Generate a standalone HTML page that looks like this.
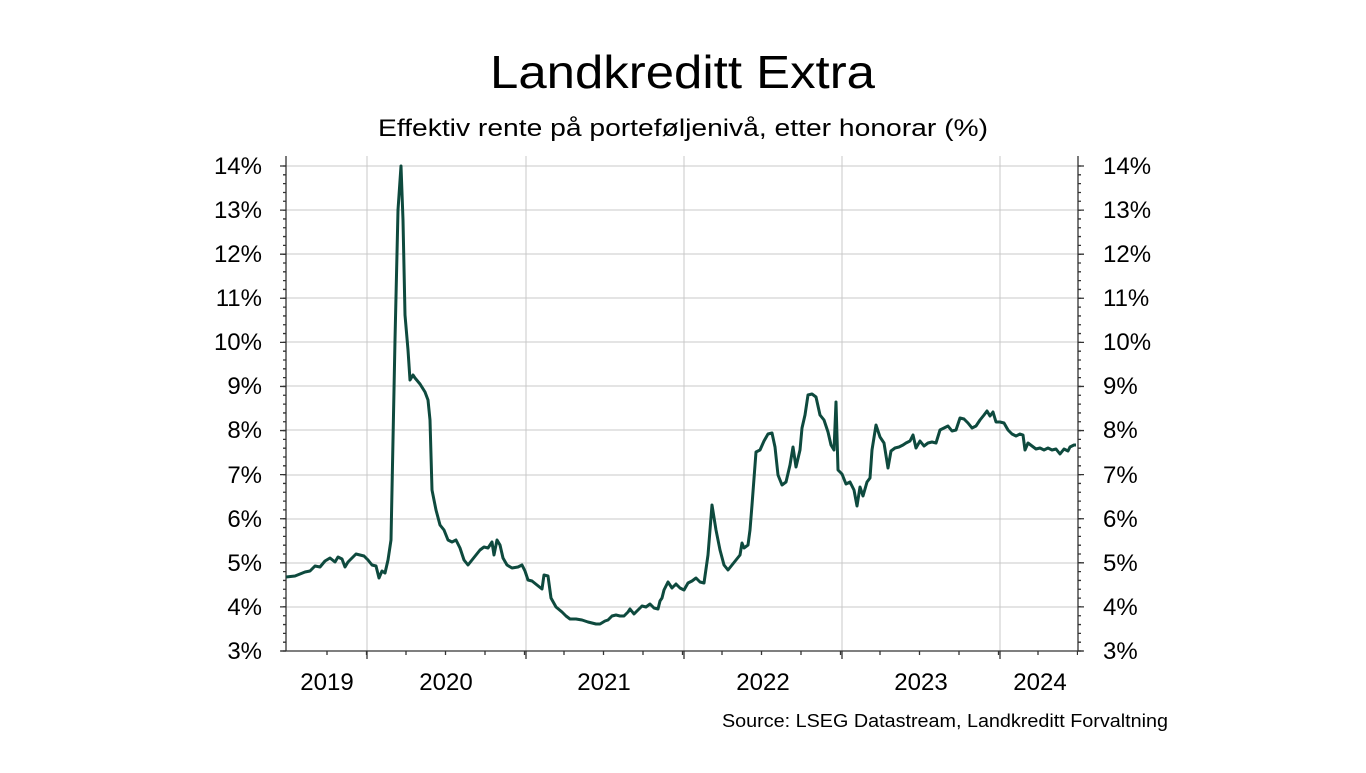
<!DOCTYPE html>
<html><head><meta charset="utf-8"><style>
html,body{margin:0;padding:0;background:#fff;}
svg text{font-family:"Liberation Sans",sans-serif;fill:#000;}
</style></head><body>
<svg width="1366" height="768" viewBox="0 0 1366 768" xmlns="http://www.w3.org/2000/svg">
<text x="490" y="88" font-size="46" textLength="385" lengthAdjust="spacingAndGlyphs">Landkreditt Extra</text>
<text x="378" y="136" font-size="24" textLength="610" lengthAdjust="spacingAndGlyphs">Effektiv rente på porteføljenivå, etter honorar (%)</text>
<g stroke="#c8c8c8" stroke-width="1">
<line x1="286" y1="166" x2="1078" y2="166"/><line x1="286" y1="210" x2="1078" y2="210"/>
<line x1="286" y1="254" x2="1078" y2="254"/><line x1="286" y1="298" x2="1078" y2="298"/>
<line x1="286" y1="342" x2="1078" y2="342"/><line x1="286" y1="386" x2="1078" y2="386"/>
<line x1="286" y1="430" x2="1078" y2="430"/><line x1="286" y1="475" x2="1078" y2="475"/>
<line x1="286" y1="519" x2="1078" y2="519"/><line x1="286" y1="563" x2="1078" y2="563"/>
<line x1="286" y1="607" x2="1078" y2="607"/>
<line x1="367" y1="156" x2="367" y2="651"/><line x1="526" y1="156" x2="526" y2="651"/>
<line x1="684" y1="156" x2="684" y2="651"/><line x1="842" y1="156" x2="842" y2="651"/>
<line x1="1000" y1="156" x2="1000" y2="651"/>
</g>
<g stroke="#333" stroke-width="1.3" fill="none">
<line x1="286" y1="156" x2="286" y2="651"/><line x1="1078" y1="156" x2="1078" y2="651"/>
<line x1="281" y1="651" x2="1083" y2="651"/>
</g>
<g stroke="#333" fill="none">
<line x1="284.5" y1="651.65" x2="284.5" y2="160" stroke-width="3" stroke-dasharray="1.3 7.518"/>
<line x1="1079.5" y1="651.65" x2="1079.5" y2="160" stroke-width="3" stroke-dasharray="1.3 7.518"/>
<line x1="283" y1="651.65" x2="283" y2="160" stroke-width="6" stroke-dasharray="1.3 42.79"/>
<line x1="1081" y1="651.65" x2="1081" y2="160" stroke-width="6" stroke-dasharray="1.3 42.79"/>
<line x1="326.35" y1="653" x2="1078" y2="653" stroke-width="4" stroke-dasharray="1.3 38.2"/>
</g>
<g stroke="#333" stroke-width="1.3">
<line x1="367" y1="651" x2="367" y2="659"/><line x1="526" y1="651" x2="526" y2="659"/>
<line x1="684" y1="651" x2="684" y2="659"/><line x1="842" y1="651" x2="842" y2="659"/>
<line x1="1000" y1="651" x2="1000" y2="659"/>
</g>
<g font-size="24">
<text x="262" y="174" text-anchor="end">14%</text><text x="262" y="218" text-anchor="end">13%</text>
<text x="262" y="262" text-anchor="end">12%</text><text x="262" y="306" text-anchor="end">11%</text>
<text x="262" y="350" text-anchor="end">10%</text><text x="262" y="394" text-anchor="end">9%</text>
<text x="262" y="438" text-anchor="end">8%</text><text x="262" y="483" text-anchor="end">7%</text>
<text x="262" y="527" text-anchor="end">6%</text><text x="262" y="571" text-anchor="end">5%</text>
<text x="262" y="615" text-anchor="end">4%</text><text x="262" y="659" text-anchor="end">3%</text>
<text x="1103" y="174">14%</text><text x="1103" y="218">13%</text><text x="1103" y="262">12%</text>
<text x="1103" y="306">11%</text><text x="1103" y="350">10%</text><text x="1103" y="394">9%</text>
<text x="1103" y="438">8%</text><text x="1103" y="483">7%</text><text x="1103" y="527">6%</text>
<text x="1103" y="571">5%</text><text x="1103" y="615">4%</text><text x="1103" y="659">3%</text>
<text x="327" y="690" text-anchor="middle">2019</text><text x="446" y="690" text-anchor="middle">2020</text>
<text x="604" y="690" text-anchor="middle">2021</text><text x="763" y="690" text-anchor="middle">2022</text>
<text x="921" y="690" text-anchor="middle">2023</text><text x="1040" y="690" text-anchor="middle">2024</text>
</g>
<text x="722" y="727" font-size="18" textLength="446" lengthAdjust="spacingAndGlyphs">Source: LSEG Datastream, Landkreditt Forvaltning</text>
<polyline fill="none" stroke="#0e4a3e" stroke-width="3" stroke-linejoin="round" points="286,577 295,576 300,574 305,572 310,571 315,566 320,567 325,561 330,558 335,562 338,557 342,559 345,567 348,562 352,558 356,554 360,555 364,556 368,560 372,565 376,566 379,578 382,571 385,573 388,560 391,540 395,340 398,210 401,166 403,220 405,315 408,350 410,380 413,375 415,378 420,384 425,392 428,400 430,420 432,490 436,510 440,525 444,530 448,540 452,542 456,540 460,548 464,560 468,565 472,560 476,555 480,550 484,547 488,548 492,542 494,555 497,540 500,545 503,558 507,565 512,568 518,567 522,565 525,571 528,580 532,581 537,585 542,589 544,575 548,576 551,598 556,607 562,612 566,616 570,619 576,619 582,620 588,622 592,623 596,624 600,624 605,621 608,620 612,616 616,615 620,616 624,616 628,612 630,609 634,614 638,610 642,606 646,607 650,604 654,608 658,609 660,601 662,598 664,590 668,582 672,588 676,584 680,588 684,590 688,583 692,581 696,578 700,582 704,583 708,555 712,505 716,530 720,550 724,565 728,570 732,565 736,560 740,555 742,543 744,548 748,545 750,530 752,505 756,452 760,450 764,441 768,434 772,433 775,447 778,475 782,485 786,482 790,465 793,447 796,467 800,450 802,428 805,415 808,395 812,394 816,397 820,415 824,420 828,432 831,445 834,450 836,402 838,470 842,474 846,484 850,482 854,490 857,506 860,487 863,496 867,482 870,478 872,450 876,425 880,437 884,443 888,468 891,451 895,448 899,447 903,445 906,443 910,441 913,435 916,448 920,441 924,446 928,443 932,442 936,443 940,430 944,428 948,426 952,431 956,430 960,418 964,419 968,423 972,428 976,426 980,420 984,415 987,411 990,416 993,412 996,422 1000,422 1004,423 1008,430 1012,434 1016,436 1020,434 1023,435 1025,450 1028,443 1032,446 1036,449 1040,448 1044,450 1048,448 1052,450 1056,449 1060,454 1064,449 1068,451 1070,447 1074,445 1076,445"/>
</svg>
</body></html>
